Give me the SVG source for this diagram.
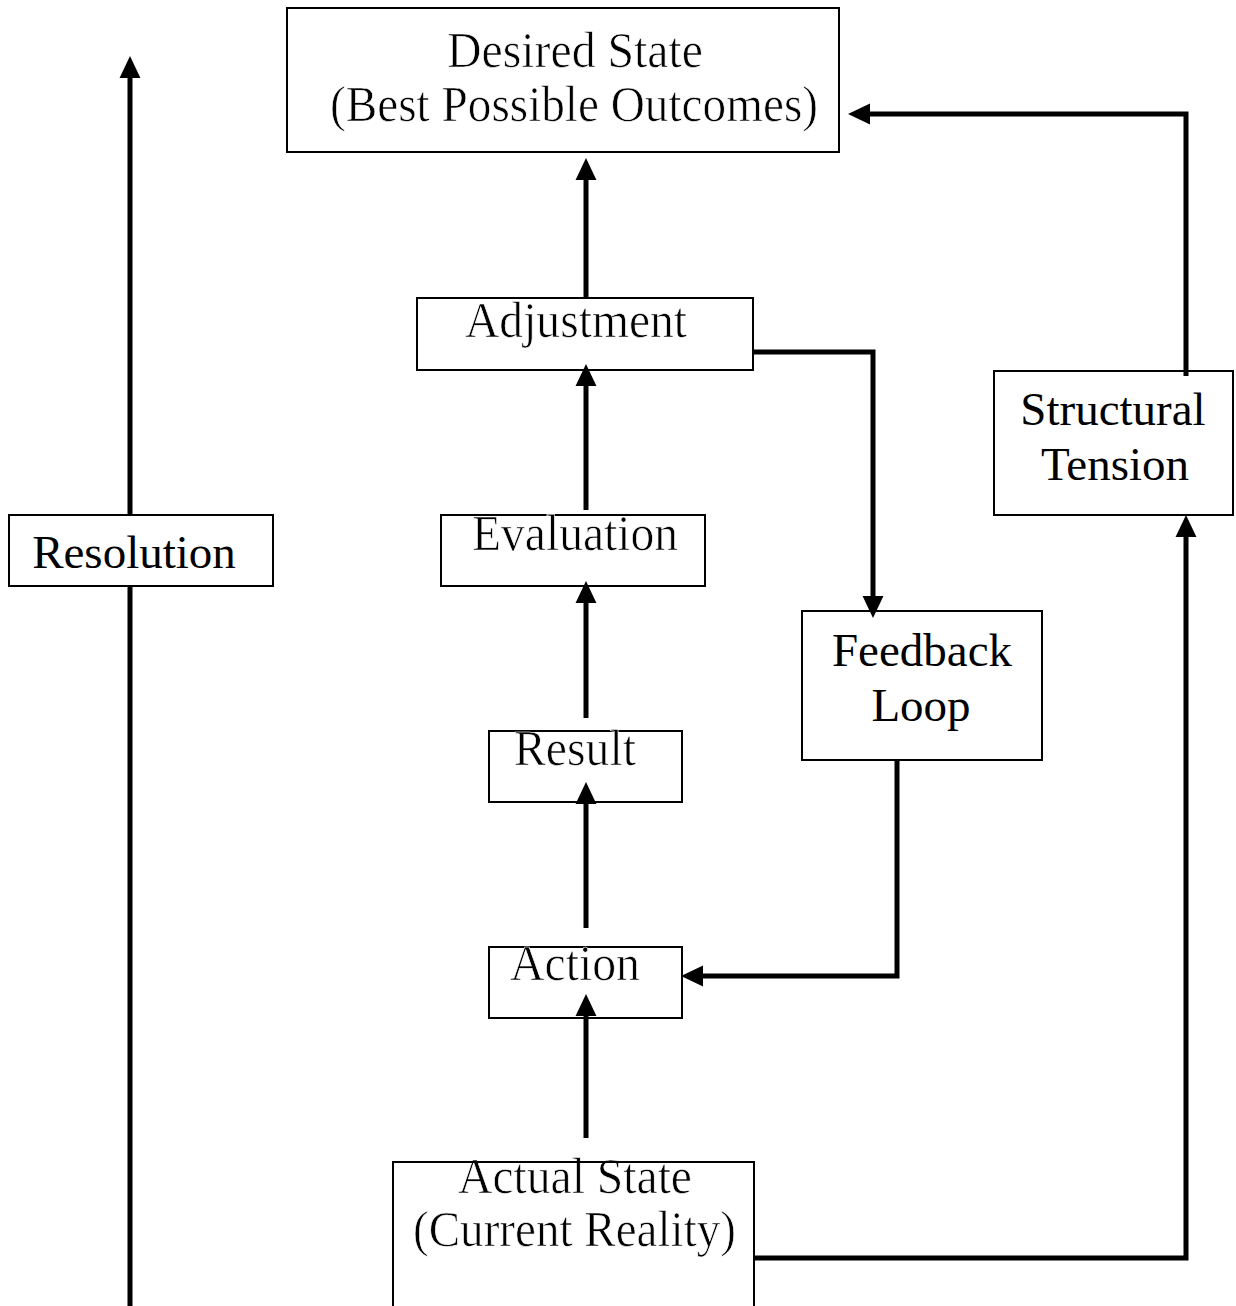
<svg xmlns="http://www.w3.org/2000/svg" width="1236" height="1306" viewBox="0 0 1236 1306">
<style>
.box{fill:#fff;stroke:#000;stroke-width:2}
.thin{font-family:"Liberation Serif","DejaVu Serif",serif;font-size:50px;fill:#000;stroke:#fff;stroke-width:0.7px}
.reg{font-family:"Liberation Serif","Times New Roman",serif;font-size:47px;fill:#000;text-anchor:middle}
.con{fill:none;stroke:#000;stroke-width:5}
.edge{fill:none;stroke:#000;stroke-width:2}
</style>
<defs>
<marker id="ah" markerUnits="userSpaceOnUse" markerWidth="22" markerHeight="22" viewBox="0 0 20 20" refX="0" refY="10" orient="auto">
<path d="M0,0.5 L20,10 L0,19.5 Z" fill="#000"/>
</marker>
</defs>
<rect width="1236" height="1306" fill="#fff"/>
<g id="desired">
<rect class="box" x="287" y="8" width="552" height="144"/>
<text class="thin" x="447" y="67" textLength="256" lengthAdjust="spacingAndGlyphs">Desired State</text>
<text class="thin" x="330" y="121" textLength="488" lengthAdjust="spacingAndGlyphs">(Best Possible Outcomes)</text>
</g>
<g id="adjustment">
<rect class="box" x="417" y="298" width="336" height="72"/>
<text class="thin" x="465" y="337" textLength="222" lengthAdjust="spacingAndGlyphs">Adjustment</text>
</g>
<g id="evaluation">
<rect class="box" x="441" y="515" width="264" height="71"/>
<text class="thin" x="472" y="550" textLength="206" lengthAdjust="spacingAndGlyphs">Evaluation</text>
</g>
<g id="result">
<rect class="box" x="489" y="731" width="193" height="71"/>
<text class="thin" x="514" y="765" textLength="122" lengthAdjust="spacingAndGlyphs">Result</text>
</g>
<g id="action">
<rect class="box" x="489" y="947" width="193" height="71"/>
<text class="thin" x="510" y="980" textLength="130" lengthAdjust="spacingAndGlyphs">Action</text>
</g>
<g id="actual">
<rect class="box" x="393" y="1162" width="361" height="150"/>
<text class="thin" x="458" y="1193" textLength="234" lengthAdjust="spacingAndGlyphs">Actual State</text>
<text class="thin" x="413" y="1246" textLength="323" lengthAdjust="spacingAndGlyphs">(Current Reality)</text>
<line class="edge" x1="393" y1="1162" x2="754" y2="1162"/>
</g>
<g id="feedback">
<rect class="box" x="802" y="611" width="240" height="149"/>
<text class="reg" x="922" y="666">Feedback</text>
<text class="reg" x="921" y="721">Loop</text>
</g>
<g id="structural">
<rect class="box" x="994" y="371" width="239" height="144"/>
<text class="reg" x="1113" y="425">Structural</text>
<text class="reg" x="1115" y="480">Tension</text>
</g>
<g id="resolution">
<rect class="box" x="9" y="515" width="264" height="71"/>
<text class="reg" x="134" y="568">Resolution</text>
</g>
<g id="connectors">
<line class="con" x1="130" y1="1306" x2="130" y2="587"/>
<line class="con" x1="130" y1="514" x2="130" y2="78" marker-end="url(#ah)"/>
<line class="con" x1="586" y1="298" x2="586" y2="180" marker-end="url(#ah)"/>
<line class="con" x1="586" y1="510" x2="586" y2="386" marker-end="url(#ah)"/>
<line class="con" x1="586" y1="718" x2="586" y2="603" marker-end="url(#ah)"/>
<line class="con" x1="586" y1="928" x2="586" y2="804" marker-end="url(#ah)"/>
<line class="con" x1="586" y1="1138" x2="586" y2="1016" marker-end="url(#ah)"/>
<polyline class="con" points="754,352 873,352 873,596" marker-end="url(#ah)"/>
<polyline class="con" points="897,761 897,976 703,976" marker-end="url(#ah)"/>
<polyline class="con" points="755,1258 1186,1258 1186,537" marker-end="url(#ah)"/>
<polyline class="con" points="1186,376 1186,114 870,114" marker-end="url(#ah)"/>
</g>
</svg>
